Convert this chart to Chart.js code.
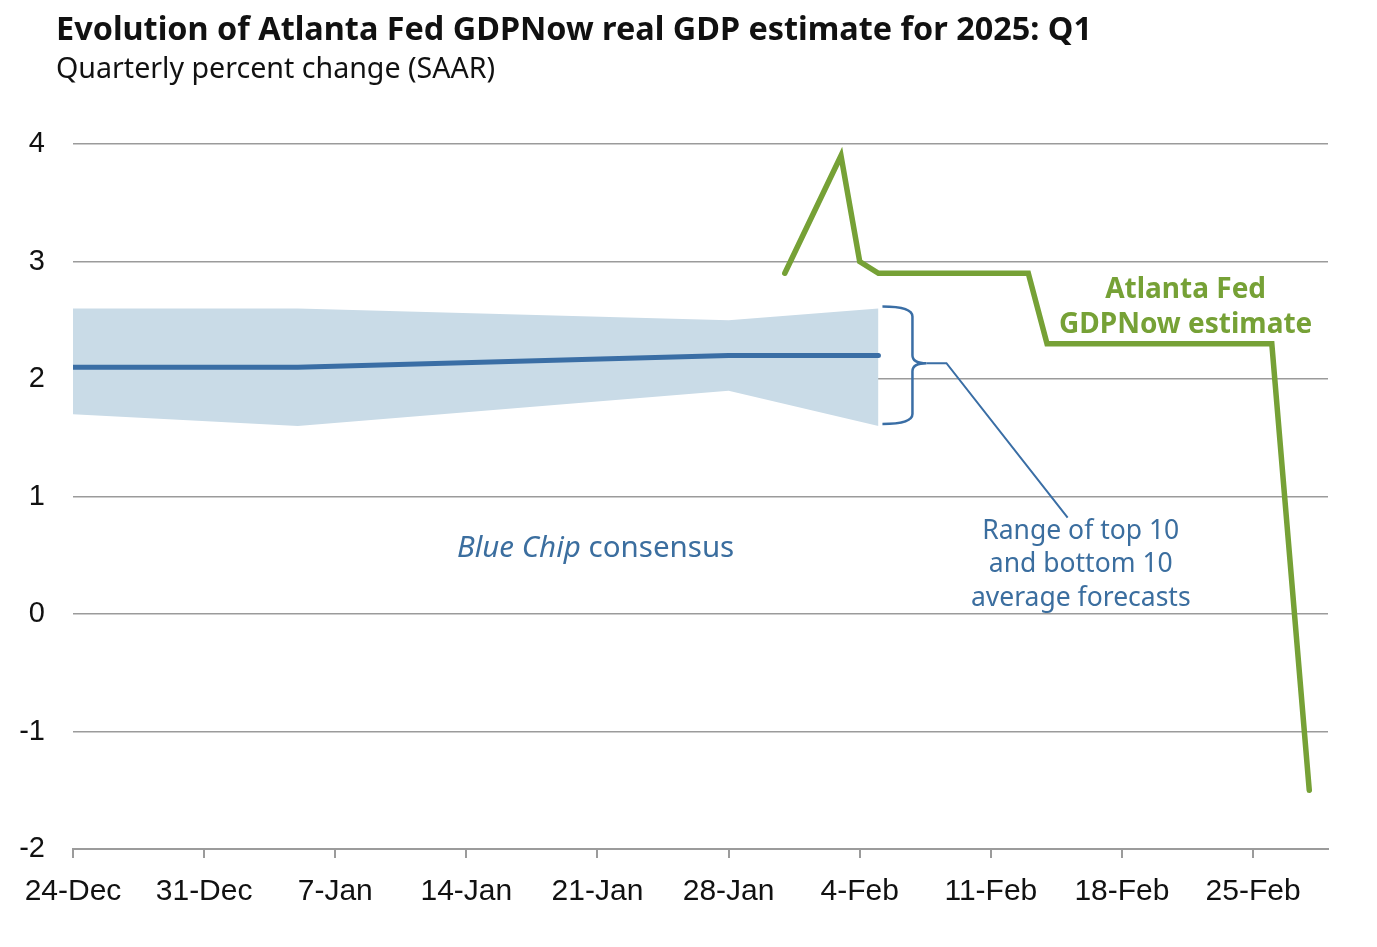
<!DOCTYPE html>
<html>
<head>
<meta charset="utf-8">
<script src="https://cdn.jsdelivr.net/npm/chart.js@4.4.1/dist/chart.umd.min.js"></script>
<style>
  html, body { margin: 0; padding: 0; background: #fff; }
  #wrap { position: relative; width: 1377px; height: 947px; }
  #title { position: absolute; left: 56px; top: 5px; font-family: "Noto Sans", "Open Sans", sans-serif; font-weight: 700; font-size: 32.4px; color: #111; white-space: nowrap; }
  #subtitle { position: absolute; left: 56px; top: 47px; font-family: "Noto Sans", "Open Sans", sans-serif; font-weight: 400; font-size: 28.6px; color: #111; white-space: nowrap; }
  canvas { position: absolute; left: 0; top: 0; }
</style>
</head>
<body>
<div id="wrap">
  <canvas id="c" width="1377" height="947"></canvas>
  <div id="title">Evolution of Atlanta Fed GDPNow real GDP estimate for 2025: Q1</div>
  <div id="subtitle">Quarterly percent change (SAAR)</div>
</div>
<script>
// Days counted from 24-Dec-2024
const tickDays = [0, 7, 14, 21, 28, 35, 42, 49, 56, 63];
const tickLabels = ['24-Dec', '31-Dec', '7-Jan', '14-Jan', '21-Jan', '28-Jan', '4-Feb', '11-Feb', '18-Feb', '25-Feb'];
const yTicks = [-2, -1, 0, 1, 2, 3, 4];

// Blue Chip consensus
const bcDays = [0, 12, 35, 43];
const bcMean = [2.1, 2.1, 2.2, 2.2];
const bcHigh = [2.6, 2.6, 2.5, 2.6];
const bcLow  = [1.7, 1.6, 1.9, 1.6];

// Atlanta Fed GDPNow
const gdpDays = [38, 41, 42, 43, 51, 52, 64, 66];
const gdpNow  = [2.9, 3.9, 3.0, 2.9, 2.9, 2.3, 2.3, -1.5];

const BLUE = '#3a6ea5';
const BLUE_TXT = '#3b6e9f';
const BAND = '#c9dbe7';
const GREEN = '#76a136';
const GRID = '#9b9b9b';

const pts = (xs, ys) => xs.map((x, i) => ({ x: x, y: ys[i] }));

const annot = {
  id: 'annot',
  afterDatasetsDraw(chart) {
    const ctx = chart.ctx;
    const xs = chart.scales.x, ys = chart.scales.y;
    const px = v => xs.getPixelForValue(v);
    const py = v => ys.getPixelForValue(v);
    ctx.save();

    // Blue Chip consensus label
    ctx.textBaseline = 'middle';
    ctx.textAlign = 'left';
    const f1 = 'italic 29.5px "Noto Sans", "Open Sans", sans-serif';
    const f2 = '29.5px "Noto Sans", "Open Sans", sans-serif';
    ctx.font = f1; const w1 = ctx.measureText('Blue Chip').width;
    ctx.font = f2; const w2 = ctx.measureText(' consensus').width;
    let cx = px(27.9), cy = py(0.56);
    let sx = cx - (w1 + w2) / 2;
    ctx.fillStyle = BLUE_TXT;
    ctx.font = f1; ctx.fillText('Blue Chip', sx, cy);
    ctx.font = f2; ctx.fillText(' consensus', sx + w1, cy);

    // GDPNow label
    ctx.textAlign = 'center';
    ctx.fillStyle = GREEN;
    ctx.font = 'bold 28px "Noto Sans", "Open Sans", sans-serif';
    ctx.fillText('Atlanta Fed', px(59.4), py(2.76));
    ctx.fillText('GDPNow estimate', px(59.4), py(2.46));

    // Range label
    ctx.fillStyle = BLUE_TXT;
    ctx.font = '26.5px "Noto Sans", "Open Sans", sans-serif';
    ctx.fillText('Range of top 10', px(53.8), py(0.70));
    ctx.fillText('and bottom 10', px(53.8), py(0.42));
    ctx.fillText('average forecasts', px(53.8), py(0.13));

    // Brace
    const bx = px(43) + 4;
    const top = py(bcHigh[3]) - 2, bot = py(bcLow[bcLow.length - 1]) - 2;
    const mid = (top + bot) / 2 - 2;
    const vx = bx + 30, tipx = bx + 44;
    ctx.strokeStyle = BLUE;
    ctx.lineWidth = 2.5;
    ctx.beginPath();
    ctx.moveTo(bx, top);
    ctx.quadraticCurveTo(vx, top, vx, top + 10);
    ctx.lineTo(vx, mid - 8);
    ctx.quadraticCurveTo(vx, mid, tipx, mid);
    ctx.quadraticCurveTo(vx, mid, vx, mid + 8);
    ctx.lineTo(vx, bot - 10);
    ctx.quadraticCurveTo(vx, bot, bx, bot);
    ctx.stroke();

    // Leader line
    ctx.lineWidth = 2;
    ctx.beginPath();
    ctx.moveTo(tipx, mid);
    ctx.lineTo(tipx + 20, mid);
    ctx.lineTo(px(53.1), py(0.82));
    ctx.stroke();

    ctx.restore();
  }
};

new Chart(document.getElementById('c'), {
  type: 'line',
  data: {
    datasets: [
      { label: 'High', data: pts(bcDays, bcHigh), borderWidth: 0, pointRadius: 0, backgroundColor: BAND, fill: '+1', order: 3 },
      { label: 'Low', data: pts(bcDays, bcLow), borderWidth: 0, pointRadius: 0, fill: false, order: 3 },
      { label: 'Blue Chip consensus', data: pts(bcDays, bcMean), borderColor: BLUE, borderWidth: 5, pointRadius: 0, fill: false, borderCapStyle: 'round', borderJoinStyle: 'round', order: 2 },
      { label: 'GDPNow', data: pts(gdpDays, gdpNow), borderColor: GREEN, borderWidth: 5.5, pointRadius: 0, fill: false, borderCapStyle: 'round', borderJoinStyle: 'miter', order: 1 }
    ]
  },
  options: {
    responsive: false,
    animation: false,
    events: [],
    layout: { padding: { top: 144, right: 49, left: 0, bottom: 0 } },
    plugins: { legend: { display: false }, tooltip: { enabled: false }, title: { display: false } },
    scales: {
      x: {
        type: 'linear',
        min: 0, max: 67,
        afterBuildTicks: s => { s.ticks = tickDays.map(v => ({ value: v })); },
        afterFit: s => { s.height = 98; },
        ticks: {
          autoSkip: false, maxRotation: 0,
          padding: 16,
          color: '#111',
          font: { family: '"Liberation Sans", Arial, sans-serif', size: 30 },
          callback: (v) => { const i = tickDays.indexOf(v); return i >= 0 ? tickLabels[i] : ''; }
        },
        grid: { display: true, drawOnChartArea: false, drawTicks: true, tickLength: 9, color: GRID, lineWidth: 2 },
        border: { display: true, color: GRID, width: 2 }
      },
      y: {
        min: -2, max: 4,
        afterBuildTicks: s => { s.ticks = yTicks.map(v => ({ value: v })); },
        afterFit: s => { s.width = 73; },
        ticks: {
          padding: 28,
          color: '#111',
          font: { family: '"Liberation Sans", Arial, sans-serif', size: 29 },
          callback: v => String(v)
        },
        grid: { color: GRID, lineWidth: 1.5, drawTicks: false },
        border: { display: false }
      }
    }
  },
  plugins: [annot]
});
</script>
</body>
</html>
